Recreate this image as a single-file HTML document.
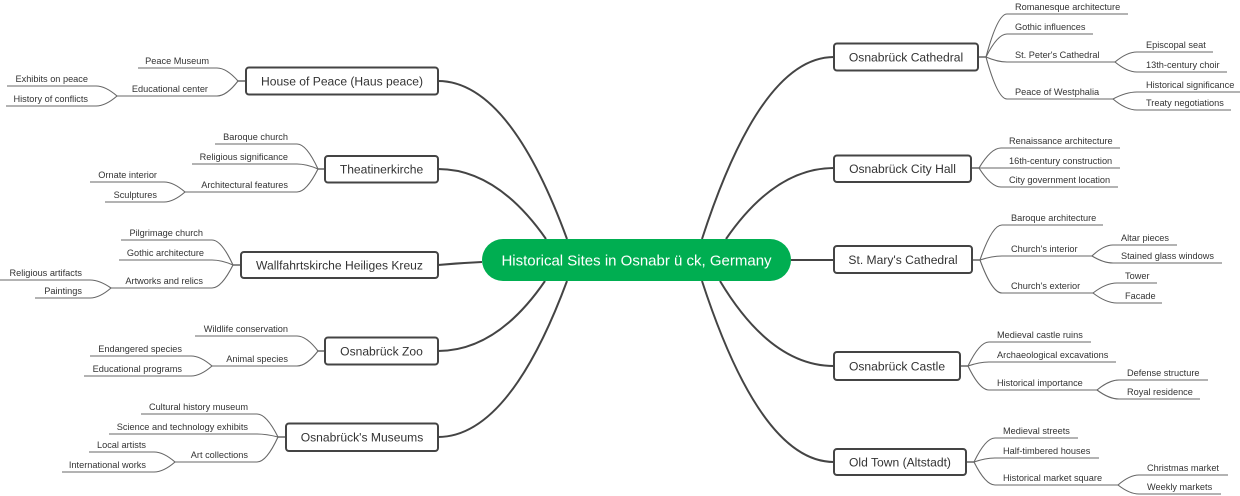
<!DOCTYPE html>
<html><head><meta charset="utf-8"><style>
html,body{margin:0;padding:0;background:#fff;}
svg{display:block;}
text{font-family:"Liberation Sans",Arial,sans-serif;fill:#333;}
.lf{font-size:9.2px;}
.br{font-size:12.1px;text-anchor:middle;}
.ul{stroke:#9a9a9a;stroke-width:1.5;fill:none;}
.cv{stroke:#666;stroke-width:1.1;fill:none;}
.mn{stroke:#444;stroke-width:2;fill:none;}
.bx{fill:#fff;stroke:#444;stroke-width:2;}
.st{stroke:#666;stroke-width:1.5;}
.e{text-anchor:end;}
</style></head><body>
<svg width="1240" height="496" viewBox="0 0 1240 496" xmlns="http://www.w3.org/2000/svg">
<!-- main connectors -->
<path class="mn" d="M438,81 Q509,81 567,239"/>
<path class="mn" d="M438,169 Q497,169 546,239"/>
<path class="mn" d="M438,265 Q460,263 482,262"/>
<path class="mn" d="M438,351 Q497,351 545,281"/>
<path class="mn" d="M438,437 Q509,437 567,281"/>
<path class="mn" d="M834,57 Q761,57 702,239"/>
<path class="mn" d="M834,168 Q775,168 726,239"/>
<path class="mn" d="M791,260 L834,260"/>
<path class="mn" d="M834,366 Q771,366 720,281"/>
<path class="mn" d="M834,462 Q761,462 702,281"/>

<!-- center -->
<rect x="482" y="239" width="309" height="42" rx="21" fill="#00ae51"/>
<text x="636.5" y="265.3" font-size="15" text-anchor="middle" style="fill:#fff">Historical Sites in Osnabr ü ck, Germany</text>

<!-- stubs -->
<line class="st" x1="246" y1="81" x2="238" y2="81"/>
<line class="st" x1="325" y1="169" x2="318" y2="169"/>
<line class="st" x1="241" y1="265" x2="233" y2="265"/>
<line class="st" x1="325" y1="351" x2="318" y2="351"/>
<line class="st" x1="286" y1="437" x2="278" y2="437"/>
<line class="st" x1="978" y1="57" x2="986" y2="57"/>
<line class="st" x1="971" y1="168" x2="979" y2="168"/>
<line class="st" x1="972" y1="260" x2="980" y2="260"/>
<line class="st" x1="960" y1="366" x2="968" y2="366"/>
<line class="st" x1="966" y1="462" x2="974" y2="462"/>

<!-- boxes -->
<rect class="bx" x="246" y="67.5" width="192" height="27" rx="3"/>
<text class="br" x="342" y="85.3">House of Peace (Haus peace)</text>
<rect class="bx" x="325" y="156" width="113" height="26.5" rx="3"/>
<text class="br" x="381.5" y="173.5">Theatinerkirche</text>
<rect class="bx" x="241" y="252" width="197" height="26" rx="3"/>
<text class="br" x="339.5" y="269.3">Wallfahrtskirche Heiliges Kreuz</text>
<rect class="bx" x="325" y="337.5" width="113" height="27" rx="3"/>
<text class="br" x="381.5" y="355.3">Osnabrück Zoo</text>
<rect class="bx" x="286" y="423.5" width="152" height="27.5" rx="3"/>
<text class="br" x="362" y="441.5">Osnabrück's Museums</text>
<rect class="bx" x="834" y="43.5" width="144" height="27" rx="3"/>
<text class="br" x="906" y="61.3">Osnabrück Cathedral</text>
<rect class="bx" x="834" y="155.5" width="137" height="26.5" rx="3"/>
<text class="br" x="902.5" y="173">Osnabrück City Hall</text>
<rect class="bx" x="834" y="246" width="138" height="27" rx="3"/>
<text class="br" x="903" y="263.8">St. Mary's Cathedral</text>
<rect class="bx" x="834" y="352" width="126" height="28" rx="3"/>
<text class="br" x="897" y="370.3">Osnabrück Castle</text>
<rect class="bx" x="834" y="449" width="132" height="26" rx="3"/>
<text class="br" x="900" y="466.3">Old Town (Altstadt)</text>

<!-- LEFT: House of Peace -->
<line class="ul" x1="138" y1="68" x2="217" y2="68"/><path class="cv" d="M217,68 Q226.5,68 238,81"/>
<text class="lf e" x="209" y="64">Peace Museum</text>
<line class="ul" x1="117" y1="96" x2="217" y2="96"/><path class="cv" d="M217,96 Q226.5,96 238,81"/>
<text class="lf e" x="208" y="92">Educational center</text>
<line class="ul" x1="7" y1="86" x2="96" y2="86"/><path class="cv" d="M96,86 Q105.5,86 117,96"/>
<text class="lf e" x="88" y="82">Exhibits on peace</text>
<line class="ul" x1="6" y1="106" x2="96" y2="106"/><path class="cv" d="M96,106 Q105.5,106 117,96"/>
<text class="lf e" x="88" y="102">History of conflicts</text>

<!-- Theatinerkirche -->
<line class="ul" x1="215" y1="144" x2="297" y2="144"/><path class="cv" d="M297,144 Q306.5,144 318,169"/>
<text class="lf e" x="288" y="140">Baroque church</text>
<line class="ul" x1="192" y1="164" x2="297" y2="164"/><path class="cv" d="M297,164 Q306.5,164 318,169"/>
<text class="lf e" x="288" y="160">Religious significance</text>
<line class="ul" x1="185" y1="192" x2="297" y2="192"/><path class="cv" d="M297,192 Q306.5,192 318,169"/>
<text class="lf e" x="288" y="188">Architectural features</text>
<line class="ul" x1="90" y1="182" x2="164" y2="182"/><path class="cv" d="M164,182 Q173.5,182 185,192"/>
<text class="lf e" x="157" y="178">Ornate interior</text>
<line class="ul" x1="105" y1="202" x2="164" y2="202"/><path class="cv" d="M164,202 Q173.5,202 185,192"/>
<text class="lf e" x="157" y="198">Sculptures</text>

<!-- Wallfahrtskirche -->
<line class="ul" x1="121" y1="240" x2="212" y2="240"/><path class="cv" d="M212,240 Q221.5,240 233,265"/>
<text class="lf e" x="203" y="236">Pilgrimage church</text>
<line class="ul" x1="119" y1="260" x2="212" y2="260"/><path class="cv" d="M212,260 Q221.5,260 233,265"/>
<text class="lf e" x="204" y="256">Gothic architecture</text>
<line class="ul" x1="111" y1="288" x2="212" y2="288"/><path class="cv" d="M212,288 Q221.5,288 233,265"/>
<text class="lf e" x="203" y="284">Artworks and relics</text>
<line class="ul" x1="0" y1="280" x2="90" y2="280"/><path class="cv" d="M90,280 Q99.5,280 111,288"/>
<text class="lf e" x="82" y="276">Religious artifacts</text>
<line class="ul" x1="35" y1="298" x2="90" y2="298"/><path class="cv" d="M90,298 Q99.5,298 111,288"/>
<text class="lf e" x="82" y="294">Paintings</text>

<!-- Zoo -->
<line class="ul" x1="195" y1="336" x2="297" y2="336"/><path class="cv" d="M297,336 Q306.5,336 318,351"/>
<text class="lf e" x="288" y="332">Wildlife conservation</text>
<line class="ul" x1="212" y1="366" x2="297" y2="366"/><path class="cv" d="M297,366 Q306.5,366 318,351"/>
<text class="lf e" x="288" y="362">Animal species</text>
<line class="ul" x1="90" y1="356" x2="191" y2="356"/><path class="cv" d="M191,356 Q200.5,356 212,366"/>
<text class="lf e" x="182" y="352">Endangered species</text>
<line class="ul" x1="84" y1="376" x2="191" y2="376"/><path class="cv" d="M191,376 Q200.5,376 212,366"/>
<text class="lf e" x="182" y="372">Educational programs</text>

<!-- Museums -->
<line class="ul" x1="141" y1="414" x2="257" y2="414"/><path class="cv" d="M257,414 Q266.5,414 278,437"/>
<text class="lf e" x="248" y="410">Cultural history museum</text>
<line class="ul" x1="109" y1="434" x2="257" y2="434"/><path class="cv" d="M257,434 Q266.5,434 278,437"/>
<text class="lf e" x="248" y="430">Science and technology exhibits</text>
<line class="ul" x1="175" y1="462" x2="257" y2="462"/><path class="cv" d="M257,462 Q266.5,462 278,437"/>
<text class="lf e" x="248" y="458">Art collections</text>
<line class="ul" x1="89" y1="452" x2="154" y2="452"/><path class="cv" d="M154,452 Q163.5,452 175,462"/>
<text class="lf e" x="146" y="448">Local artists</text>
<line class="ul" x1="62" y1="472" x2="154" y2="472"/><path class="cv" d="M154,472 Q163.5,472 175,462"/>
<text class="lf e" x="146" y="468">International works</text>

<!-- RIGHT: Cathedral -->
<line class="ul" x1="1007" y1="14" x2="1128" y2="14"/><path class="cv" d="M986,57 Q997.5,14 1007,14"/>
<text class="lf" x="1015" y="10">Romanesque architecture</text>
<line class="ul" x1="1007" y1="34" x2="1093" y2="34"/><path class="cv" d="M986,57 Q997.5,34 1007,34"/>
<text class="lf" x="1015" y="30">Gothic influences</text>
<line class="ul" x1="1007" y1="62" x2="1115" y2="62"/><path class="cv" d="M986,57 Q997.5,62 1007,62"/>
<text class="lf" x="1015" y="58">St. Peter's Cathedral</text>
<line class="ul" x1="1137" y1="52" x2="1213" y2="52"/><path class="cv" d="M1115,62 Q1127,52 1137,52"/>
<text class="lf" x="1146" y="48">Episcopal seat</text>
<line class="ul" x1="1137" y1="72" x2="1227" y2="72"/><path class="cv" d="M1115,62 Q1127,72 1137,72"/>
<text class="lf" x="1146" y="68">13th-century choir</text>
<line class="ul" x1="1007" y1="99" x2="1113" y2="99"/><path class="cv" d="M986,57 Q997.5,99 1007,99"/>
<text class="lf" x="1015" y="95">Peace of Westphalia</text>
<line class="ul" x1="1137" y1="92" x2="1240" y2="92"/><path class="cv" d="M1113,99 Q1126,92 1137,92"/>
<text class="lf" x="1146" y="88">Historical significance</text>
<line class="ul" x1="1137" y1="110" x2="1231" y2="110"/><path class="cv" d="M1113,99 Q1126,110 1137,110"/>
<text class="lf" x="1146" y="106">Treaty negotiations</text>

<!-- City Hall -->
<line class="ul" x1="1001" y1="148" x2="1120" y2="148"/><path class="cv" d="M979,168 Q991,148 1001,148"/>
<text class="lf" x="1009" y="144">Renaissance architecture</text>
<line class="ul" x1="1001" y1="168" x2="1120" y2="168"/><path class="cv" d="M979,168 L1001,168"/>
<text class="lf" x="1009" y="164">16th-century construction</text>
<line class="ul" x1="1001" y1="187" x2="1118" y2="187"/><path class="cv" d="M979,168 Q991,187 1001,187"/>
<text class="lf" x="1009" y="183">City government location</text>

<!-- St. Mary's -->
<line class="ul" x1="1002" y1="225" x2="1103" y2="225"/><path class="cv" d="M980,260 Q992,225 1002,225"/>
<text class="lf" x="1011" y="221">Baroque architecture</text>
<line class="ul" x1="1002" y1="256" x2="1092" y2="256"/><path class="cv" d="M980,260 Q992,256 1002,256"/>
<text class="lf" x="1011" y="252">Church's interior</text>
<line class="ul" x1="1113" y1="245" x2="1177" y2="245"/><path class="cv" d="M1092,256 Q1103.5,245 1113,245"/>
<text class="lf" x="1121" y="241">Altar pieces</text>
<line class="ul" x1="1113" y1="263" x2="1222" y2="263"/><path class="cv" d="M1092,256 Q1103.5,263 1113,263"/>
<text class="lf" x="1121" y="259">Stained glass windows</text>
<line class="ul" x1="1002" y1="293" x2="1093" y2="293"/><path class="cv" d="M980,260 Q992,293 1002,293"/>
<text class="lf" x="1011" y="289">Church's exterior</text>
<line class="ul" x1="1117" y1="283" x2="1157" y2="283"/><path class="cv" d="M1093,293 Q1106,283 1117,283"/>
<text class="lf" x="1125" y="279">Tower</text>
<line class="ul" x1="1117" y1="303" x2="1162" y2="303"/><path class="cv" d="M1093,293 Q1106,303 1117,303"/>
<text class="lf" x="1125" y="299">Facade</text>

<!-- Castle -->
<line class="ul" x1="989" y1="342" x2="1091" y2="342"/><path class="cv" d="M968,366 Q979.5,342 989,342"/>
<text class="lf" x="997" y="338">Medieval castle ruins</text>
<line class="ul" x1="989" y1="362" x2="1116" y2="362"/><path class="cv" d="M968,366 Q979.5,362 989,362"/>
<text class="lf" x="997" y="358">Archaeological excavations</text>
<line class="ul" x1="989" y1="390" x2="1097" y2="390"/><path class="cv" d="M968,366 Q979.5,390 989,390"/>
<text class="lf" x="997" y="386">Historical importance</text>
<line class="ul" x1="1119" y1="380" x2="1208" y2="380"/><path class="cv" d="M1097,390 Q1109,380 1119,380"/>
<text class="lf" x="1127" y="376">Defense structure</text>
<line class="ul" x1="1119" y1="399" x2="1200" y2="399"/><path class="cv" d="M1097,390 Q1109,399 1119,399"/>
<text class="lf" x="1127" y="395">Royal residence</text>

<!-- Old Town -->
<line class="ul" x1="995" y1="438" x2="1078" y2="438"/><path class="cv" d="M974,462 Q985.5,438 995,438"/>
<text class="lf" x="1003" y="434">Medieval streets</text>
<line class="ul" x1="995" y1="458" x2="1099" y2="458"/><path class="cv" d="M974,462 Q985.5,458 995,458"/>
<text class="lf" x="1003" y="454">Half-timbered houses</text>
<line class="ul" x1="995" y1="485" x2="1118" y2="485"/><path class="cv" d="M974,462 Q985.5,485 995,485"/>
<text class="lf" x="1003" y="481">Historical market square</text>
<line class="ul" x1="1139" y1="475" x2="1228" y2="475"/><path class="cv" d="M1118,485 Q1129.5,475 1139,475"/>
<text class="lf" x="1147" y="471">Christmas market</text>
<line class="ul" x1="1139" y1="494" x2="1221" y2="494"/><path class="cv" d="M1118,485 Q1129.5,494 1139,494"/>
<text class="lf" x="1147" y="490">Weekly markets</text>
</svg>
</body></html>
